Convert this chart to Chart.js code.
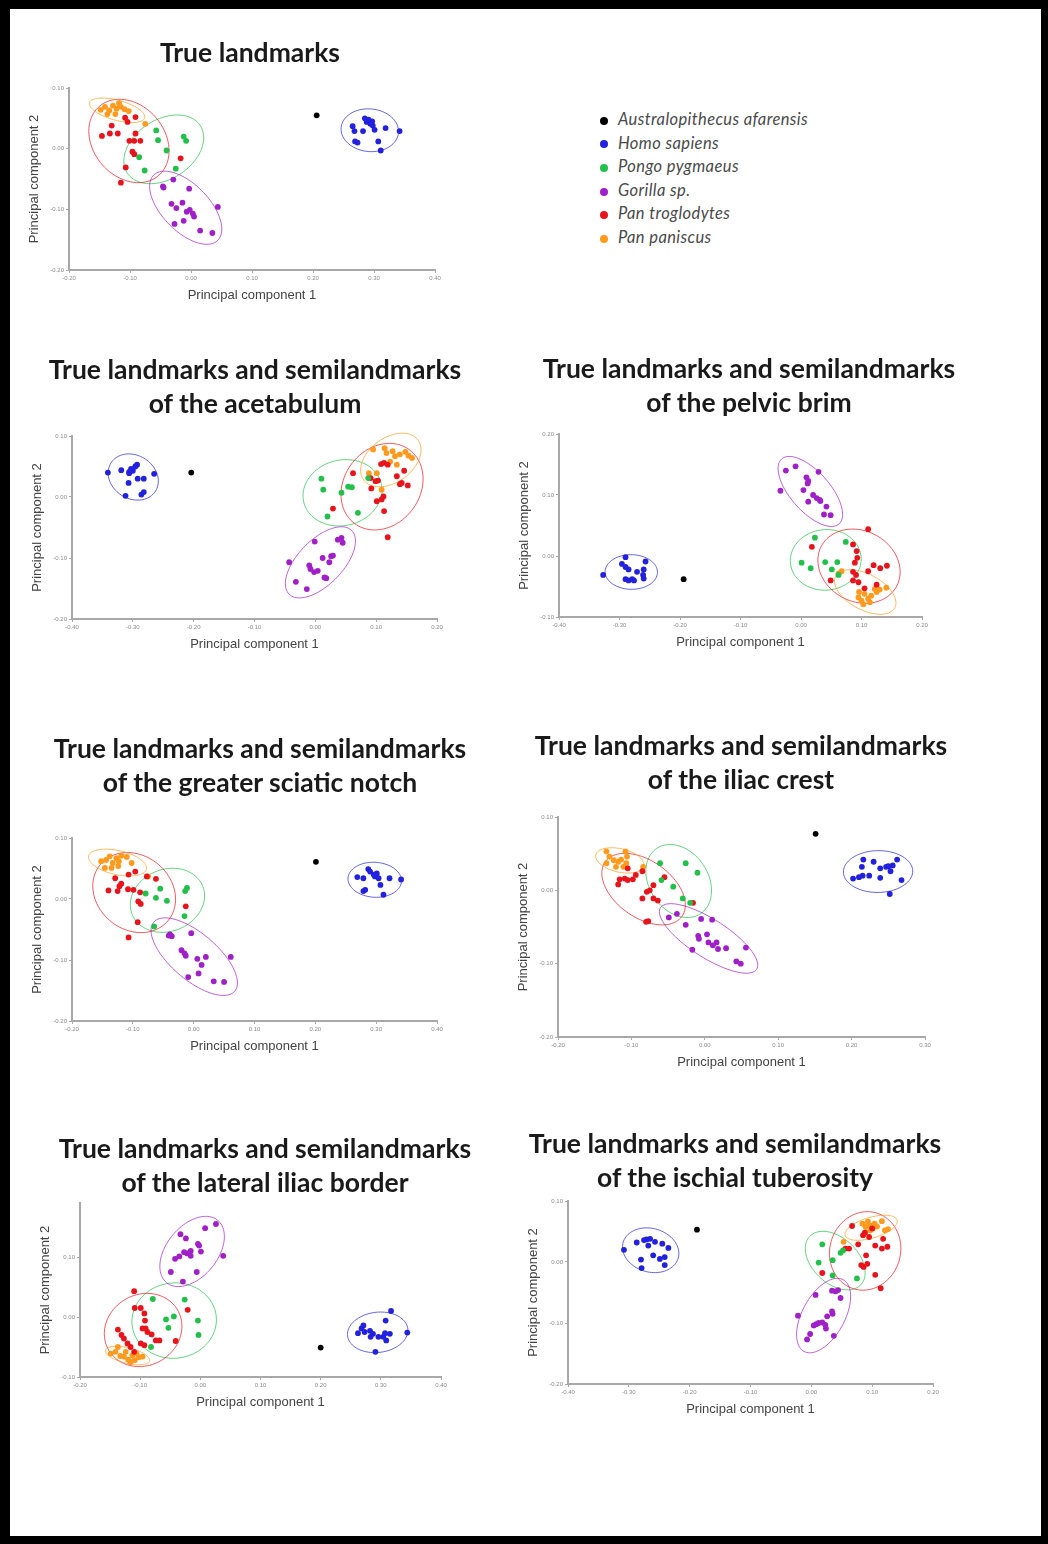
<!DOCTYPE html>
<html>
<head>
<meta charset="utf-8">
<script src="https://cdn.jsdelivr.net/npm/chart.js@4.4.1/dist/chart.umd.min.js"></script>
<style>
body{margin:0;background:#fff;}
#page{position:relative;width:1048px;height:1544px;background:#fff;overflow:hidden;}
#frame{position:absolute;left:0;top:0;width:1048px;height:1544px;box-sizing:border-box;border-style:solid;border-color:#000;border-width:9px 7px 8px 10px;pointer-events:none;}
.ttl{position:absolute;width:560px;text-align:center;font:bold 26.5px Lato, sans-serif;line-height:34px;color:#1a1a1a;}
canvas{position:absolute;}
#legend{position:absolute;left:596px;top:108px;font:italic 16.5px Lato, sans-serif;letter-spacing:0.4px;color:#4a4a4a;}
#legend div{height:23.6px;line-height:23.6px;white-space:nowrap;}
#legend span{display:inline-block;width:8px;height:8px;border-radius:50%;margin:0 10px 0 4px;vertical-align:middle;}
</style>
</head>
<body>
<div id="page"><div id="legend"></div><div id="frame"></div></div>
<script>
// species and colours
const SPECIES=['Australopithecus afarensis','Homo sapiens','Pongo pygmaeus','Gorilla sp.','Pan troglodytes','Pan paniscus'];
const COLORS=['#000000','#2222dd','#22c04a','#a020c8','#e8141c','#ff9a1c'];

// True landmarks
const tlAfarensis=[[0.206,0.055]];
const tlSapiens=[[0.265,0.037],[0.268,0.029],[0.282,0.029],[0.285,0.050],[0.288,0.044],[0.294,0.041],[0.298,0.038],[0.301,0.031],[0.319,0.034],[0.342,0.029],[0.269,0.012],[0.273,0.010],[0.307,0.012],[0.311,-0.003],[0.297,0.045],[0.291,0.048]];
const tlPongo=[[-0.057,0.030],[-0.054,0.014],[-0.040,-0.003],[-0.012,0.020],[-0.008,0.013],[-0.076,-0.036],[-0.025,-0.033],[-0.085,-0.014]];
const tlGorilla=[[-0.046,-0.062],[-0.029,-0.051],[-0.003,-0.066],[-0.032,-0.091],[-0.024,-0.098],[-0.014,-0.089],[-0.002,-0.101],[0.003,-0.107],[0.005,-0.112],[-0.027,-0.124],[-0.012,-0.119],[0.015,-0.135],[0.035,-0.139],[0.044,-0.096],[-0.045,-0.064],[-0.007,-0.104]];
const tlTroglodytes=[[-0.146,0.021],[-0.133,0.025],[-0.120,0.025],[-0.130,0.038],[-0.108,0.051],[-0.104,0.044],[-0.091,0.052],[-0.091,0.025],[-0.101,0.013],[-0.093,0.013],[-0.083,0.013],[-0.096,-0.005],[-0.093,-0.009],[-0.107,-0.031],[-0.115,-0.056],[-0.017,-0.016]];
const tlPaniscus=[[-0.148,0.064],[-0.141,0.069],[-0.134,0.063],[-0.128,0.071],[-0.122,0.066],[-0.115,0.069],[-0.109,0.065],[-0.124,0.057],[-0.137,0.057],[-0.102,0.062],[-0.075,0.041],[-0.118,0.075]];

// acetabulum
const acAfarensis=[[-0.204,0.040]];
const acSapiens=[[-0.341,0.040],[-0.319,0.044],[-0.306,0.041],[-0.303,0.046],[-0.296,0.050],[-0.293,0.053],[-0.307,0.023],[-0.292,0.030],[-0.282,0.030],[-0.265,0.038],[-0.312,0.002],[-0.286,0.004],[-0.282,0.008],[-0.306,0.039],[-0.300,0.043]];
const acPongo=[[0.010,0.030],[0.013,0.012],[0.043,0.007],[0.054,0.017],[0.060,0.016],[0.070,-0.026],[0.020,-0.032],[0.087,0.031]];
const acGorilla=[[-0.043,-0.107],[-0.032,-0.139],[-0.014,-0.151],[-0.010,-0.112],[-0.008,-0.118],[-0.002,-0.123],[0.004,-0.121],[-0.001,-0.073],[0.012,-0.100],[0.015,-0.132],[0.023,-0.107],[0.026,-0.097],[0.029,-0.096],[0.037,-0.070],[0.043,-0.067],[0.045,-0.075],[0.018,-0.133]];
const acTroglodytes=[[0.062,0.039],[0.029,-0.019],[0.092,0.014],[0.099,0.026],[0.103,0.027],[0.108,0.054],[0.113,0.056],[0.119,0.053],[0.134,0.034],[0.139,0.021],[0.146,0.043],[0.152,0.019],[0.101,-0.007],[0.109,-0.004],[0.112,0.001],[0.113,-0.023],[0.119,-0.066],[0.091,0.031],[0.142,0.023]];
const acPaniscus=[[0.095,0.078],[0.114,0.080],[0.127,0.075],[0.131,0.067],[0.139,0.070],[0.148,0.074],[0.153,0.068],[0.159,0.064],[0.123,0.058],[0.134,0.053],[0.088,0.039],[0.109,0.012],[0.101,0.039],[0.117,0.072]];

// pelvic brim
const pbAfarensis=[[-0.194,-0.038]];
const pbSapiens=[[-0.327,-0.031],[-0.290,-0.002],[-0.296,-0.013],[-0.290,-0.018],[-0.285,-0.022],[-0.271,-0.026],[-0.290,-0.038],[-0.285,-0.040],[-0.279,-0.038],[-0.261,-0.031],[-0.260,-0.037],[-0.257,-0.009],[-0.260,-0.022],[-0.276,-0.040]];
const pbPongo=[[0.001,-0.011],[0.016,-0.020],[0.023,0.030],[0.040,-0.010],[0.051,-0.022],[0.060,-0.010],[0.074,0.023],[0.062,-0.031]];
const pbGorilla=[[-0.034,0.107],[-0.025,0.140],[-0.009,0.147],[0.004,0.108],[0.009,0.129],[0.012,0.123],[0.011,0.119],[0.020,0.100],[0.029,0.138],[0.026,0.095],[0.031,0.092],[0.012,0.089],[0.042,0.081],[0.038,0.068],[0.049,0.067],[0.032,0.090]];
const pbTroglodytes=[[0.018,0.015],[0.049,-0.040],[0.086,0.019],[0.092,0.008],[0.093,-0.003],[0.089,-0.011],[0.086,-0.026],[0.086,-0.040],[0.095,-0.043],[0.111,0.044],[0.111,-0.025],[0.120,-0.015],[0.131,-0.020],[0.142,-0.016],[0.105,-0.053],[0.125,-0.047],[0.091,-0.031]];
const pbPaniscus=[[0.062,-0.029],[0.067,-0.025],[0.095,-0.068],[0.100,-0.073],[0.105,-0.062],[0.111,-0.070],[0.116,-0.065],[0.122,-0.054],[0.125,-0.059],[0.130,-0.055],[0.141,-0.052],[0.103,-0.079],[0.096,-0.059],[0.114,-0.076]];

// greater sciatic notch
const gsAfarensis=[[0.201,0.061]];
const gsSapiens=[[0.269,0.036],[0.279,0.034],[0.287,0.049],[0.290,0.045],[0.298,0.037],[0.301,0.042],[0.304,0.034],[0.307,0.023],[0.322,0.034],[0.341,0.032],[0.279,0.013],[0.282,0.015],[0.312,0.007],[0.296,0.040]];
const gsPongo=[[-0.062,0.002],[-0.055,0.017],[-0.044,-0.003],[-0.014,0.013],[-0.011,0.018],[-0.015,-0.028],[-0.065,-0.045],[-0.079,0.009]];
const gsGorilla=[[-0.041,-0.060],[-0.036,-0.061],[-0.004,-0.056],[-0.020,-0.084],[-0.015,-0.089],[-0.013,-0.093],[0.006,-0.098],[0.013,-0.108],[0.020,-0.095],[-0.009,-0.128],[0.008,-0.122],[0.033,-0.135],[0.050,-0.136],[0.061,-0.095],[-0.039,-0.058]];
const gsTroglodytes=[[-0.140,0.014],[-0.129,0.034],[-0.125,0.013],[-0.122,0.021],[-0.119,0.025],[-0.107,0.040],[-0.096,0.045],[-0.099,0.015],[-0.088,0.011],[-0.091,-0.004],[-0.087,-0.008],[-0.092,-0.038],[-0.107,-0.063],[-0.013,-0.012],[-0.062,0.033],[-0.077,0.037],[-0.108,0.016]];
const gsPaniscus=[[-0.152,0.062],[-0.144,0.064],[-0.138,0.070],[-0.133,0.059],[-0.127,0.067],[-0.123,0.062],[-0.119,0.071],[-0.110,0.069],[-0.135,0.051],[-0.146,0.051],[-0.075,0.037],[-0.102,0.059],[-0.124,0.054]];

// iliac crest
const icAfarensis=[[0.151,0.077]];
const icSapiens=[[0.202,0.016],[0.210,0.018],[0.215,0.020],[0.224,0.020],[0.214,0.032],[0.216,0.042],[0.230,0.039],[0.239,0.030],[0.239,0.017],[0.247,0.032],[0.250,0.033],[0.253,0.026],[0.256,0.034],[0.262,0.042],[0.268,0.014],[0.252,-0.005]];
const icPongo=[[-0.061,0.037],[-0.059,0.014],[-0.043,0.005],[-0.026,0.037],[-0.010,0.024],[-0.030,-0.011],[-0.020,-0.017]];
const icGorilla=[[-0.049,-0.037],[-0.038,-0.032],[-0.026,-0.047],[-0.017,-0.081],[-0.009,-0.062],[-0.008,-0.066],[-0.005,-0.039],[0.003,-0.060],[0.005,-0.071],[0.010,-0.040],[0.011,-0.075],[0.018,-0.080],[0.029,-0.079],[0.043,-0.097],[0.049,-0.100],[0.056,-0.078],[0.016,-0.071]];
const icTroglodytes=[[-0.118,0.008],[-0.116,0.015],[-0.109,0.016],[-0.105,0.030],[-0.098,0.015],[-0.094,0.021],[-0.085,0.026],[-0.085,-0.011],[-0.079,-0.002],[-0.075,0.000],[-0.070,0.007],[-0.070,-0.011],[-0.064,-0.014],[-0.055,0.018],[-0.080,-0.043],[-0.077,-0.042],[-0.016,-0.017],[-0.105,0.014]];
const icPaniscus=[[-0.134,0.053],[-0.130,0.046],[-0.124,0.041],[-0.118,0.039],[-0.114,0.042],[-0.108,0.053],[-0.106,0.046],[-0.111,0.032],[-0.121,0.032],[-0.107,0.037],[-0.084,0.032],[-0.134,0.037]];

// lateral iliac border
const lbAfarensis=[[0.200,-0.051]];
const lbSapiens=[[0.262,-0.027],[0.268,-0.019],[0.271,-0.014],[0.273,-0.025],[0.283,-0.033],[0.287,-0.028],[0.291,-0.058],[0.296,-0.033],[0.304,-0.033],[0.307,-0.027],[0.309,-0.039],[0.315,-0.028],[0.308,-0.006],[0.317,0.010],[0.344,-0.026],[0.282,-0.023]];
const lbPongo=[[-0.079,0.030],[-0.057,-0.004],[-0.053,-0.018],[-0.044,0.001],[-0.026,0.029],[-0.004,-0.006],[-0.003,-0.030],[-0.082,-0.050]];
const lbGorilla=[[-0.049,0.075],[-0.033,0.138],[-0.024,0.131],[-0.042,0.097],[-0.035,0.101],[-0.027,0.108],[-0.022,0.106],[-0.016,0.110],[-0.016,0.102],[-0.004,0.122],[-0.002,0.119],[-0.006,0.075],[0.001,0.109],[0.008,0.148],[0.026,0.155],[0.038,0.102],[-0.029,0.059]];
const lbTroglodytes=[[-0.110,0.043],[-0.109,0.015],[-0.099,0.015],[-0.093,0.006],[-0.092,-0.006],[-0.096,-0.019],[-0.091,-0.019],[-0.088,-0.025],[-0.081,-0.029],[-0.137,-0.021],[-0.131,-0.030],[-0.127,-0.036],[-0.121,-0.044],[-0.116,-0.050],[-0.099,-0.044],[-0.093,-0.047],[-0.074,-0.039],[-0.068,-0.039],[-0.041,-0.040],[-0.021,0.012],[-0.110,-0.058]];
const lbPaniscus=[[-0.149,-0.061],[-0.141,-0.058],[-0.133,-0.065],[-0.127,-0.066],[-0.120,-0.071],[-0.113,-0.064],[-0.109,-0.072],[-0.106,-0.061],[-0.102,-0.067],[-0.096,-0.066],[-0.137,-0.050],[-0.116,-0.075],[-0.124,-0.058]];

// ischial tuberosity
const itAfarensis=[[-0.188,0.053]];
const itSapiens=[[-0.308,0.020],[-0.287,0.032],[-0.280,0.004],[-0.279,-0.010],[-0.275,0.036],[-0.271,0.037],[-0.268,0.027],[-0.260,0.011],[-0.257,0.033],[-0.249,0.005],[-0.245,0.030],[-0.241,0.008],[-0.241,-0.005],[-0.235,0.023],[-0.265,0.038]];
const itPongo=[[0.018,0.029],[0.012,-0.001],[0.035,0.003],[0.035,-0.022],[0.052,0.019],[0.075,-0.027],[0.048,0.015]];
const itGorilla=[[-0.022,-0.088],[-0.007,-0.127],[-0.002,-0.118],[0.004,-0.104],[0.008,-0.102],[0.012,-0.100],[0.018,-0.099],[0.007,-0.054],[0.024,-0.109],[0.026,-0.089],[0.034,-0.081],[0.037,-0.121],[0.034,-0.047],[0.040,-0.048],[0.044,-0.046],[0.048,-0.059],[0.035,-0.085],[0.023,-0.103]];
const itTroglodytes=[[0.018,-0.018],[0.056,0.022],[0.067,0.059],[0.077,0.029],[0.085,0.044],[0.088,0.048],[0.090,0.011],[0.095,0.041],[0.082,-0.005],[0.086,-0.008],[0.092,-0.003],[0.105,-0.021],[0.105,0.027],[0.114,-0.043],[0.118,0.038],[0.116,0.022],[0.125,0.025],[0.062,0.022],[0.100,0.055]];
const itPaniscus=[[0.084,0.063],[0.089,0.058],[0.093,0.066],[0.097,0.060],[0.101,0.055],[0.097,0.052],[0.104,0.063],[0.121,0.052],[0.126,0.054],[0.089,0.049],[0.053,0.033],[0.108,0.058],[0.116,0.067]];

// panel layout: chart area box, axis ranges, title lines
const panels=[
  {title:['True landmarks'],cx:250,ty:52,L:69,T:88,W:366,H:182,x:[-0.2,0.4],y:[-0.2,0.1],
   sets:[tlAfarensis,tlSapiens,tlPongo,tlGorilla,tlTroglodytes,tlPaniscus]},
  {title:['True landmarks and semilandmarks','of the acetabulum'],cx:255,ty:369,L:72,T:436,W:365,H:183,x:[-0.4,0.2],y:[-0.2,0.1],
   sets:[acAfarensis,acSapiens,acPongo,acGorilla,acTroglodytes,acPaniscus]},
  {title:['True landmarks and semilandmarks','of the pelvic brim'],cx:749,ty:368,L:559,T:434,W:363,H:183,x:[-0.4,0.2],y:[-0.1,0.2],
   sets:[pbAfarensis,pbSapiens,pbPongo,pbGorilla,pbTroglodytes,pbPaniscus]},
  {title:['True landmarks and semilandmarks','of the greater sciatic notch'],cx:260,ty:748,L:72,T:838,W:365,H:183,x:[-0.2,0.4],y:[-0.2,0.1],
   sets:[gsAfarensis,gsSapiens,gsPongo,gsGorilla,gsTroglodytes,gsPaniscus]},
  {title:['True landmarks and semilandmarks','of the iliac crest'],cx:741,ty:745,L:558,T:817,W:367,H:220,x:[-0.2,0.3],y:[-0.2,0.1],
   sets:[icAfarensis,icSapiens,icPongo,icGorilla,icTroglodytes,icPaniscus]},
  {title:['True landmarks and semilandmarks','of the lateral iliac border'],cx:265,ty:1148,L:80,T:1203,W:361,H:174,x:[-0.2,0.4],y:[-0.1,0.19],
   sets:[lbAfarensis,lbSapiens,lbPongo,lbGorilla,lbTroglodytes,lbPaniscus]},
  {title:['True landmarks and semilandmarks','of the ischial tuberosity'],cx:735,ty:1143,L:568,T:1201,W:365,H:183,x:[-0.4,0.2],y:[-0.2,0.1],
   sets:[itAfarensis,itSapiens,itPongo,itGorilla,itTroglodytes,itPaniscus]}
];

const K=2.3; // ellipse size in std devs
const ellipsePlugin={
  id:'ellipses',
  beforeDatasetsDraw(chart){
    const ctx=chart.ctx, xs=chart.scales.x, ys=chart.scales.y;
    chart.data.datasets.forEach(ds=>{
      if(!ds.ellipse) return;
      const pts=ds.data, n=pts.length;
      let mx=0,my=0;
      pts.forEach(p=>{mx+=p.x;my+=p.y;});
      mx/=n; my/=n;
      let a=0,b=0,c=0;
      pts.forEach(p=>{const dx=p.x-mx,dy=p.y-my;a+=dx*dx;b+=dx*dy;c+=dy*dy;});
      a/=n-1; b/=n-1; c/=n-1;
      const tr=(a+c)/2, d=Math.sqrt(((a-c)/2)**2+b*b);
      const r1=K*Math.sqrt(tr+d), r2=K*Math.sqrt(Math.max(tr-d,0));
      const th=0.5*Math.atan2(2*b,a-c);
      ctx.save();
      ctx.beginPath();
      for(let i=0;i<=90;i++){
        const t=i/90*2*Math.PI;
        const ex=r1*Math.cos(t), ey=r2*Math.sin(t);
        const px=xs.getPixelForValue(mx+ex*Math.cos(th)-ey*Math.sin(th));
        const py=ys.getPixelForValue(my+ex*Math.sin(th)+ey*Math.cos(th));
        if(i) ctx.lineTo(px,py); else ctx.moveTo(px,py);
      }
      ctx.strokeStyle=ds.borderColor;
      ctx.globalAlpha=0.7;
      ctx.lineWidth=1;
      ctx.stroke();
      ctx.restore();
    });
  }
};

const page=document.getElementById('page');
const YW=42, XH=33, PL=2, PR=14, PT=8, PB=2;

panels.forEach(p=>{
  const t=document.createElement('div');
  t.className='ttl';
  t.style.left=(p.cx-280)+'px';
  t.style.top=(p.ty-17)+'px';
  t.innerHTML=p.title.join('<br>');
  page.appendChild(t);

  const cv=document.createElement('canvas');
  const w=PL+YW+p.W+PR, h=PT+p.H+XH+PB;
  cv.width=w; cv.height=h;
  cv.style.left=(p.L-YW-PL)+'px';
  cv.style.top=(p.T-PT)+'px';
  page.insertBefore(cv, document.getElementById('frame'));

  const datasets=p.sets.map((s,i)=>({
    label:SPECIES[i],
    data:s.map(v=>({x:v[0],y:v[1]})),
    backgroundColor:COLORS[i],
    borderColor:COLORS[i],
    borderWidth:0,
    pointRadius:2.9,
    pointHoverRadius:2.9,
    ellipse:i>0
  }));

  const axis=(rng,title,fit)=>({
    type:'linear',min:rng[0],max:rng[1],
    grid:{display:true,drawOnChartArea:false,drawTicks:true,tickLength:3,color:'#aaa'},
    border:{display:true,color:'#a8a8a8',width:2},
    ticks:{stepSize:0.1,includeBounds:false,font:{size:6,family:'Liberation Sans'},color:'#8a8a8a',padding:2,
      callback:v=>Number(v).toFixed(2)},
    title:{display:true,text:title,color:'#444',font:{size:13,family:'Liberation Sans'},padding:{top:0,bottom:0}},
    afterFit:fit
  });

  new Chart(cv,{
    type:'scatter',
    data:{datasets},
    options:{
      responsive:false,
      animation:false,
      layout:{padding:{left:PL,right:PR,top:PT,bottom:PB}},
      plugins:{legend:{display:false},tooltip:{enabled:false}},
      scales:{
        x:axis(p.x,'Principal component 1',s=>{s.height=XH;}),
        y:axis(p.y,'Principal component 2',s=>{s.width=YW;})
      }
    },
    plugins:[ellipsePlugin]
  });
});

// legend
const lg=document.getElementById('legend');
SPECIES.forEach((name,i)=>{
  const row=document.createElement('div');
  row.innerHTML='<span style="background:'+COLORS[i]+'"></span>'+name;
  lg.appendChild(row);
});
</script>
</body>
</html>
